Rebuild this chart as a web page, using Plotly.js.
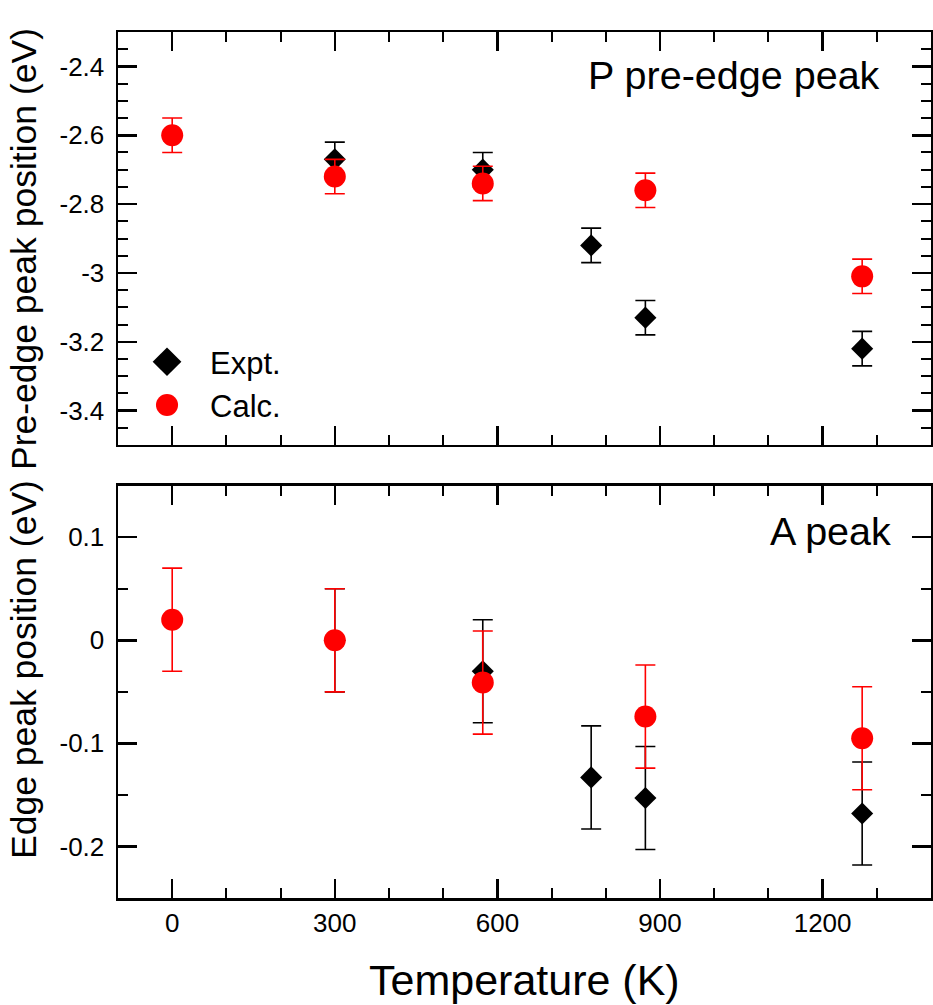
<!DOCTYPE html>
<html>
<head>
<meta charset="utf-8">
<script src="https://cdn.plot.ly/plotly-3.0.1.min.js"></script>
<style>
  html, body { margin: 0; padding: 0; background: #ffffff; }
  #chart { width: 933px; height: 1005px; }
</style>
</head>
<body>
<div id="chart"></div>
<script>
// ---- Data ----
// Top panel: P pre-edge peak position (eV)
const preExptTemp = [300, 573, 773, 873, 1273];
const preExptVal  = [-2.67, -2.70, -2.92, -3.13, -3.22];
const preExptErr  = [0.05, 0.05, 0.05, 0.05, 0.05];

const preCalcTemp = [0, 300, 573, 873, 1273];
const preCalcVal  = [-2.60, -2.72, -2.74, -2.76, -3.01];
const preCalcErr  = [0.05, 0.05, 0.05, 0.05, 0.05];

// Bottom panel: A (edge) peak position (eV)
const edgeExptTemp = [300, 573, 773, 873, 1273];
const edgeExptVal  = [0.0, -0.03, -0.133, -0.153, -0.168];
const edgeExptErr  = [0.05, 0.05, 0.05, 0.05, 0.05];

const edgeCalcTemp = [0, 300, 573, 873, 1273];
const edgeCalcVal  = [0.02, 0.0, -0.041, -0.074, -0.095];
const edgeCalcErr  = [0.05, 0.05, 0.05, 0.05, 0.05];

// Tick labels
const xTickVals = [0, 300, 600, 900, 1200];
const xTickText = ['0', '300', '600', '900', '1200'];
const preTickVals = [-3.4, -3.2, -3.0, -2.8, -2.6, -2.4];
const preTickText = ['-3.4', '-3.2', '-3', '-2.8', '-2.6', '-2.4'];
const edgeTickVals = [-0.2, -0.1, 0, 0.1];
const edgeTickText = ['-0.2', '-0.1', '0', '0.1'];

// Text
const seriesNames = ['Expt.', 'Calc.'];
const panelLabels = ['P pre-edge peak', 'A peak'];
const yTitles = ['Pre-edge peak position (eV)', 'Edge peak position (eV)'];
const xTitle = 'Temperature (K)';

// ---- Styling ----
const FONT = 'Liberation Sans, Arial, Helvetica, sans-serif';
const BLACK = '#000000';
const RED = '#ff0000';

function errBar(arr, color) {
  return { type: 'data', array: arr, visible: true, color: color, thickness: 1.6, width: 10 };
}

const exptMarker = { symbol: 'diamond', size: 17, color: BLACK, line: { width: 0 } };
const calcMarker = { symbol: 'circle', size: 22, color: RED, line: { width: 0 } };

const traces = [
  { x: preExptTemp, y: preExptVal, error_y: errBar(preExptErr, BLACK), mode: 'markers',
    type: 'scatter', name: seriesNames[0], marker: exptMarker, xaxis: 'x2', yaxis: 'y2',
    showlegend: true, legendrank: 1 },
  { x: preCalcTemp, y: preCalcVal, error_y: errBar(preCalcErr, RED), mode: 'markers',
    type: 'scatter', name: seriesNames[1], marker: calcMarker, xaxis: 'x2', yaxis: 'y2',
    showlegend: true, legendrank: 2 },
  { x: edgeExptTemp, y: edgeExptVal, error_y: errBar(edgeExptErr, BLACK), mode: 'markers',
    type: 'scatter', name: seriesNames[0], marker: exptMarker, xaxis: 'x', yaxis: 'y',
    showlegend: false },
  { x: edgeCalcTemp, y: edgeCalcVal, error_y: errBar(edgeCalcErr, RED), mode: 'markers',
    type: 'scatter', name: seriesNames[1], marker: calcMarker, xaxis: 'x', yaxis: 'y',
    showlegend: false }
];

const axisCommon = {
  showline: true, linewidth: 2.5, linecolor: BLACK, mirror: 'allticks',
  ticks: 'inside', ticklen: 19, tickwidth: 2.5, tickcolor: BLACK,
  showgrid: false, zeroline: false,
  tickfont: { family: FONT, size: 26, color: BLACK }
};

const layout = {
  width: 933, height: 1005,
  margin: { l: 118, r: 2, t: 32, b: 107 },
  paper_bgcolor: '#ffffff', plot_bgcolor: '#ffffff',
  font: { family: FONT, color: BLACK },
  showlegend: true,
  legend: {
    x: 0.0074, xanchor: 'left', y: 0.650, yanchor: 'top',
    bgcolor: 'rgba(0,0,0,0)', borderwidth: 0,
    font: { family: FONT, size: 31, color: BLACK },
    itemwidth: 76, tracegroupgap: 0
  },
  xaxis: Object.assign({}, axisCommon, {
    domain: [0, 1], anchor: 'y', range: [-100, 1400],
    tickmode: 'array', tickvals: xTickVals, ticktext: xTickText,
    ticklabelstandoff: 0,
    minor: { tickmode: 'linear', tick0: 0, dtick: 100, ticks: 'inside', ticklen: 10, tickwidth: 2, tickcolor: BLACK }
  }),
  xaxis2: Object.assign({}, axisCommon, {
    domain: [0, 1], anchor: 'y2', matches: 'x', range: [-100, 1400],
    tickmode: 'array', tickvals: xTickVals, ticktext: xTickText, showticklabels: false,
    minor: { tickmode: 'linear', tick0: 0, dtick: 100, ticks: 'inside', ticklen: 10, tickwidth: 2, tickcolor: BLACK }
  }),
  yaxis: Object.assign({}, axisCommon, {
    domain: [0, 0.4761], anchor: 'x', range: [-0.25, 0.15],
    tickmode: 'array', tickvals: edgeTickVals, ticktext: edgeTickText,
    ticklabelstandoff: 6,
    minor: { tickmode: 'linear', tick0: 0, dtick: 0.05, ticks: 'inside', ticklen: 10, tickwidth: 2, tickcolor: BLACK }
  }),
  yaxis2: Object.assign({}, axisCommon, {
    domain: [0.5231, 1], anchor: 'x2', range: [-3.5, -2.3],
    tickmode: 'array', tickvals: preTickVals, ticktext: preTickText,
    ticklabelstandoff: 6,
    minor: { tickmode: 'linear', tick0: 0, dtick: 0.05, ticks: 'inside', ticklen: 10, tickwidth: 2, tickcolor: BLACK }
  }),
  annotations: [
    { text: panelLabels[0], xref: 'paper', yref: 'paper', x: 0.9394, y: 0.9503,
      xanchor: 'right', yanchor: 'middle', showarrow: false,
      font: { family: FONT, size: 39.5, color: BLACK } },
    { text: panelLabels[1], xref: 'paper', yref: 'paper', x: 0.9533, y: 0.424,
      xanchor: 'right', yanchor: 'middle', showarrow: false,
      font: { family: FONT, size: 39.5, color: BLACK } },
    { text: yTitles[0], xref: 'paper', yref: 'paper', x: -0.1156, y: 0.7494,
      xanchor: 'center', yanchor: 'middle', textangle: -90, showarrow: false,
      font: { family: FONT, size: 35.5, color: BLACK } },
    { text: yTitles[1], xref: 'paper', yref: 'paper', x: -0.1156, y: 0.2633,
      xanchor: 'center', yanchor: 'middle', textangle: -90, showarrow: false,
      font: { family: FONT, size: 35.5, color: BLACK } },
    { text: xTitle, xref: 'paper', yref: 'paper', x: 0.5, y: -0.095,
      xanchor: 'center', yanchor: 'middle', showarrow: false,
      font: { family: FONT, size: 43, color: BLACK } }
  ]
};

Plotly.newPlot('chart', traces, layout, { displayModeBar: false, staticPlot: true }).then(function (gd) {
  // Enlarge legend symbols to match the plotted marker sizes (Plotly caps them in the legend).
  const pts = gd.querySelectorAll('.legend .legendpoints path.scatterpts');
  pts.forEach(function (p) {
    const t = p.getAttribute('transform') || '';
    p.setAttribute('transform', t + ' scale(1.38)');
  });
});
</script>
</body>
</html>
